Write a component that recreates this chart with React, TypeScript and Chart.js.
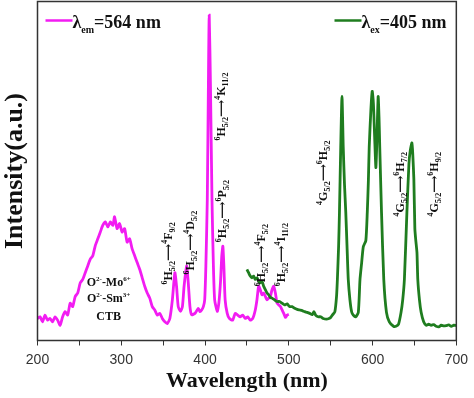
import React, { useEffect, useRef } from 'react';
import { Chart, registerables } from 'chart.js';

Chart.register(...registerables);

// Excitation spectrum (λem = 564 nm), magenta
const excWavelength = [
  200, 203, 206, 209, 212, 215, 218, 221, 224, 227, 230, 233, 236, 239, 242, 245, 248, 251, 254, 257,
  260, 263, 266, 269, 272, 275, 278, 281, 284, 287, 290, 292, 295, 298, 301, 304, 307, 310, 313, 316,
  319, 322, 325, 328, 331, 334, 337, 340, 343, 346, 349, 352, 355, 358, 361, 364, 366, 368, 370.8, 373,
  375, 378, 380, 382, 384, 388, 392, 394, 396, 398, 399.6, 401, 402.7, 404, 405, 406.5, 408.3, 410, 411.5, 414.6,
  416.5, 418.5, 420, 421.3, 422.5, 424, 426.5, 429, 433, 436, 439, 442, 445, 448, 451, 454, 457, 460, 462, 464,
  466, 468, 470, 472, 474, 476, 478, 480, 482, 484, 486, 488, 490, 492, 494, 496, 498, 500,
];
const excIntensity = [
  6.5, 7, 5.5, 7.5, 6, 6.5, 5.5, 7, 6, 4.5, 7, 8.5, 7.5, 11, 10, 13, 14, 17, 18, 20,
  22, 24, 25, 28, 30, 32, 34, 35, 33.5, 35, 34, 36.5, 33, 34.5, 32, 33, 29, 30, 27, 25,
  23, 21, 18.5, 16, 14, 12.5, 10, 9, 7.5, 8, 6.5, 5.5, 5, 6.5, 12, 20, 16, 10, 8.6, 10,
  16, 22, 17, 10, 7.6, 8, 9.5, 8.5, 9, 10, 12, 22, 41.6, 75, 96, 75, 41.6, 22, 12, 8.6,
  11, 17.4, 25, 27.8, 22, 12, 8, 6.5, 6, 8, 7.5, 7, 7.5, 6.5, 7, 6, 6.5, 9, 12, 16,
  15, 13.5, 14, 13, 12, 12.5, 13, 15, 16, 14, 11, 10.5, 10, 9, 8, 6.8, 7.5, 7.7,
];

// Emission spectrum (λex = 405 nm), green
const emWavelength = [
  450, 452, 454, 456, 458, 460, 462, 464, 466, 468, 470, 472, 474, 476, 478, 480, 483, 486, 489, 492,
  495, 498, 501, 504, 507, 510, 513, 516, 519, 522, 525, 528, 530, 532, 535, 538, 541, 545, 548, 550,
  552, 555, 557, 558, 559.5, 560.5, 562, 563.5, 565, 566.5, 568, 569.5, 571, 573, 575, 577, 580, 583, 585, 587,
  589, 592, 593.7, 595, 596, 598, 599.6, 601, 602.5, 604, 605.5, 606.7, 607.7, 608.6, 610.7, 613.4, 616.6, 620, 625, 628,
  631, 634, 636, 638, 641, 643.4, 645, 647, 648, 649.3, 650.5, 651.5, 653, 654, 656, 658, 661, 664, 667, 670,
  673, 676, 679, 682, 685, 688, 691, 694, 697, 700,
];
const emIntensity = [
  21, 20, 19, 18.5, 19, 18, 18.5, 17.5, 17, 17.5, 16, 15, 14, 13.5, 12.7, 12.5, 12, 11.5, 11.5, 11,
  10.5, 10.8, 10, 10, 9.5, 9.2, 9, 8.8, 8.5, 8.3, 8, 7.6, 8.5, 7.5, 7, 7, 6.5, 6.3, 6.5, 6.8,
  7.5, 8.5, 13, 18, 28, 38, 57, 72, 57, 46, 38, 28, 18, 12, 8.5, 7.5, 7, 8.3, 18, 23,
  27.7, 29.5, 37.8, 47, 57, 68, 73.5, 70, 60, 51, 62, 72, 66, 57, 37.8, 18, 8.3, 5.5, 4.2, 4.2,
  4.8, 8.3, 12, 18, 37.8, 52, 56, 58.3, 55, 47.6, 33, 29.8, 26, 18, 12, 8.3, 5.5, 4.5, 4.8, 4.5,
  4.7, 4.2, 4, 4.5, 4.3, 4.4, 4.6, 4.2, 4.5, 4.4,
];

const xTickValues = [200, 250, 300, 350, 400, 450, 500, 550, 600, 650, 700];
const xMajorTicks = [200, 300, 400, 500, 600, 700];

type Part = { t: string; s?: 'sup' | 'sub' };
const ARROW = '\u27F6';
const tr = (a: string, b: string, c: string, d: string, e: string, f: string): Part[] => [
  { t: a, s: 'sup' }, { t: b }, { t: c, s: 'sub' }, { t: ARROW }, { t: d, s: 'sup' }, { t: e }, { t: f, s: 'sub' },
];

// Transition labels anchored in data coordinates (nm, intensity) at text start
const transitionLabels: { nm: number; v: number; parts: Part[] }[] = [
  { nm: 360, v: 16.5, parts: tr('6', 'H', '5/2', '4', 'F', '9/2') },
  { nm: 387, v: 19.5, parts: tr('6', 'H', '5/2', '4', 'D', '5/2') },
  { nm: 424, v: 59, parts: tr('6', 'H', '5/2', '4', 'K', '11/2') },
  { nm: 425, v: 29, parts: tr('6', 'H', '5/2', '6', 'P', '5/2') },
  { nm: 471, v: 16, parts: tr('6', 'H', '5/2', '4', 'F', '5/2') },
  { nm: 496, v: 16, parts: tr('6', 'H', '5/2', '4', 'I', '11/2') },
  { nm: 546, v: 40, parts: tr('4', 'G', '5/2', '6', 'H', '5/2') },
  { nm: 638, v: 36.6, parts: tr('4', 'G', '5/2', '6', 'H', '7/2') },
  { nm: 678, v: 36.6, parts: tr('4', 'G', '5/2', '6', 'H', '9/2') },
];

const ctbLabels: { nm: number; v: number; parts: Part[] }[] = [
  { nm: 285, v: 16.2, parts: [{ t: 'O' }, { t: '2-', s: 'sup' }, { t: '-Mo' }, { t: '6+', s: 'sup' }] },
  { nm: 285, v: 11.5, parts: [{ t: 'O' }, { t: '2-', s: 'sup' }, { t: '-Sm' }, { t: '3+', s: 'sup' }] },
  { nm: 285, v: 5.9, parts: [{ t: 'CTB' }] },
];

const MAGENTA = '#f21cf2';
const GREEN = '#1f7d1f';
const SERIF = '"Liberation Serif", "Times New Roman", "DejaVu Serif", serif';

function drawRich(
  ctx: CanvasRenderingContext2D,
  parts: Part[],
  x: number,
  y: number,
  opts: { rotate: boolean; align: 'left' | 'center'; main: number; small: number; supOff: number; subOff: number },
) {
  ctx.save();
  ctx.translate(x, y);
  if (opts.rotate) ctx.rotate(-Math.PI / 2);
  ctx.textBaseline = 'alphabetic';
  ctx.textAlign = 'left';
  const fontFor = (p: Part) => `bold ${p.s ? opts.small : opts.main}px ${SERIF}`;
  let w = 0;
  for (const p of parts) {
    ctx.font = fontFor(p);
    w += ctx.measureText(p.t).width;
  }
  let cx = opts.align === 'center' ? -w / 2 : 0;
  for (const p of parts) {
    ctx.font = fontFor(p);
    const dy = p.s === 'sup' ? -opts.supOff : p.s === 'sub' ? opts.subOff : 0;
    ctx.fillText(p.t, cx, dy);
    cx += ctx.measureText(p.t).width;
  }
  ctx.restore();
}

const decorPlugin = {
  id: 'decor',
  afterDatasetsDraw(chart: any) {
    const { ctx, chartArea: ca, scales } = chart;
    const xs = scales.x;
    const ys = scales.y;
    ctx.save();
    // frame
    ctx.strokeStyle = '#333';
    ctx.lineWidth = 1.5;
    ctx.strokeRect(ca.left, ca.top, ca.right - ca.left, ca.bottom - ca.top);

    ctx.fillStyle = '#111';
    for (const l of transitionLabels) {
      drawRich(ctx, l.parts, xs.getPixelForValue(l.nm), ys.getPixelForValue(l.v), {
        rotate: true, align: 'left', main: 12, small: 8, supOff: 5, subOff: 3,
      });
    }
    for (const l of ctbLabels) {
      drawRich(ctx, l.parts, xs.getPixelForValue(l.nm), ys.getPixelForValue(l.v), {
        rotate: false, align: 'center', main: 12, small: 7, supOff: 5, subOff: 3,
      });
    }

    // legends
    const legends = [
      { color: MAGENTA, x: ca.left + 8, sub: 'em', rest: '=564 nm' },
      { color: GREEN, x: ca.left + 297, sub: 'ex', rest: '=405 nm' },
    ];
    const ly = ca.top + 19;
    for (const lg of legends) {
      ctx.strokeStyle = lg.color;
      ctx.lineWidth = 2.5;
      ctx.beginPath();
      ctx.moveTo(lg.x, ly);
      ctx.lineTo(lg.x + 27, ly);
      ctx.stroke();
      drawRich(ctx, [{ t: '\u03bb' }, { t: lg.sub, s: 'sub' }, { t: lg.rest }], lg.x + 27, ly + 7, {
        rotate: false, align: 'left', main: 18, small: 10, supOff: 6, subOff: 5,
      });
    }
    ctx.restore();
  },
};

export default function App() {
  const ref = useRef<HTMLCanvasElement>(null);
  useEffect(() => {
    const canvas = ref.current!;
    const chart = new Chart(canvas, {
      type: 'line',
      data: {
        datasets: [
          {
            label: 'λex=405 nm',
            data: emWavelength.map((x, i) => ({ x, y: emIntensity[i] })),
            borderColor: GREEN,
            borderWidth: 2.8,
            pointRadius: 0,
            tension: 0.2,
            fill: false,
          },
          {
            label: 'λem=564 nm',
            data: excWavelength.map((x, i) => ({ x, y: excIntensity[i] })),
            borderColor: MAGENTA,
            borderWidth: 2.8,
            pointRadius: 0,
            tension: 0.2,
            fill: false,
          },
        ],
      },
      options: {
        responsive: false,
        animation: false,
        devicePixelRatio: 1,
        layout: { padding: { top: 1.5, right: 13, left: 0, bottom: 0 } },
        plugins: { legend: { display: false }, tooltip: { enabled: false } },
        scales: {
          x: {
            type: 'linear',
            min: 200,
            max: 700,
            afterBuildTicks: (s: any) => {
              s.ticks = xTickValues.map((v) => ({ value: v }));
            },
            afterFit: (s: any) => {
              s.height = 57.5;
            },
            ticks: {
              autoSkip: false,
              maxRotation: 0,
              padding: 6,
              color: '#333',
              font: { family: '"Liberation Sans", Arial, sans-serif', size: 14 },
              callback: (v: any) => (xMajorTicks.includes(Number(v)) ? String(v) : ''),
            },
            grid: { drawOnChartArea: false, tickLength: 5, color: '#333', lineWidth: 1 },
            border: { display: false },
            title: {
              display: true,
              text: 'Wavelength (nm)',
              color: '#111',
              font: { family: SERIF, size: 22, weight: 'bold' },
              padding: { top: 0, bottom: 3 },
            },
          },
          y: {
            type: 'linear',
            min: 0,
            max: 100,
            afterFit: (s: any) => {
              s.width = 37.5;
            },
            ticks: { display: false },
            grid: { display: false },
            border: { display: false },
            title: {
              display: true,
              text: 'Intensity(a.u.)',
              color: '#111',
              font: { family: SERIF, size: 26, weight: 'bold' },
              padding: { top: 0, bottom: 0 },
            },
          },
        },
      },
      plugins: [decorPlugin],
    } as any);
    return () => chart.destroy();
  }, []);
  return (
    <div style={{ position: 'fixed', left: 0, top: 0, width: 474, height: 398, background: '#fff' }}>
      <canvas ref={ref} width={474} height={398} style={{ display: 'block', width: 474, height: 398 }} />
    </div>
  );
}
